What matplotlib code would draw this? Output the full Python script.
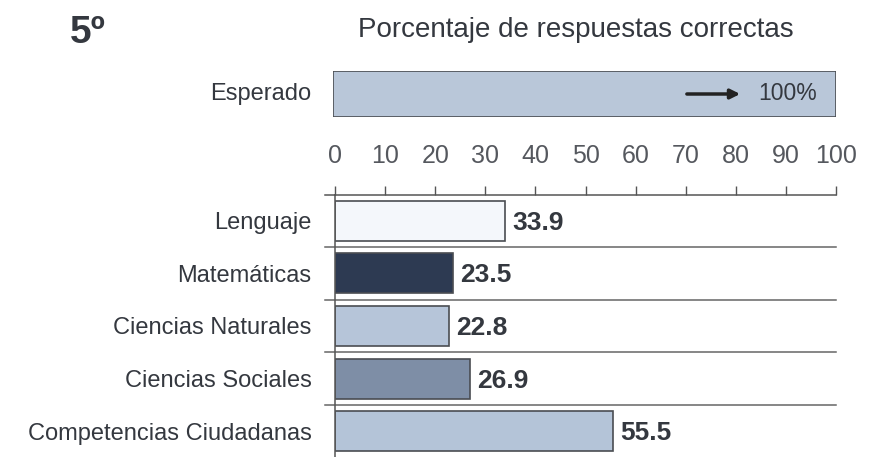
import matplotlib.pyplot as plt
from matplotlib import font_manager

# Porcentaje de respuestas correctas, 5º grado
areas = ["Lenguaje", "Matemáticas", "Ciencias Naturales", "Ciencias Sociales",
         "Competencias Ciudadanas"]
porcentajes = [33.9, 23.5, 22.8, 26.9, 55.5]
esperado = 100
ticks = [0, 10, 20, 30, 40, 50, 60, 70, 80, 90, 100]

colores = ["#f4f7fb", "#2d3a52", "#b6c5d9", "#7e8ea6", "#b4c4d8"]
texto = "#34383f"
borde = "#4a4d52"

names = {f.name for f in font_manager.fontManager.ttflist}
narrow = "Liberation Sans Narrow" if "Liberation Sans Narrow" in names else "Liberation Sans"
plt.rcParams["font.family"] = ["Liberation Sans", "DejaVu Sans"]

W, H = 872, 457
fig = plt.figure(figsize=(W / 100, H / 100), dpi=100)


def box(x0, y0, x1, y1):
    # pixel box (top-left origin) -> figure fraction rect
    return [x0 / W, 1 - y1 / H, (x1 - x0) / W, (y1 - y0) / H]


# main bars
ax = fig.add_axes(box(335, 195, 836, 457))
y = list(range(len(areas)))
ax.barh(y, porcentajes, height=0.76, color=colores, edgecolor=borde, linewidth=1.2)
ax.set_xlim(0, 100)
ax.set_ylim(4.49, -0.49)
ax.set_yticks(y)
ax.set_yticklabels(areas, fontsize=17, color=texto)
ax.tick_params(axis="y", length=0, pad=17)
ax.xaxis.tick_top()
ax.set_xticks(ticks)
ax.set_xticklabels([str(t) for t in ticks], fontsize=18, color="#55585e")
ax.tick_params(axis="x", direction="out", length=6.5, width=1, color="#555555", pad=13)
for s in ["right", "bottom"]:
    ax.spines[s].set_visible(False)
for s in ["top", "left"]:
    ax.spines[s].set_color("#555555")
    ax.spines[s].set_linewidth(1.1)

# separators between rows
for k in range(len(areas) - 1):
    ax.plot([-2, 100], [k + 0.5, k + 0.5], color="#666666", lw=1.1, clip_on=False)
ax.plot([-2, 0], [-0.49, -0.49], color="#555555", lw=1.1, clip_on=False)

for yi, v in zip(y, porcentajes):
    ax.text(v + 1.4, yi + 0.04, f"{v:.1f}", va="center", ha="left", fontsize=19,
            fontweight="bold", color=texto, family=narrow)

# expected bar
ax2 = fig.add_axes(box(333, 71, 836, 117))
ax2.barh([0], [esperado], height=1.0, color="#b9c7d9", edgecolor=borde, linewidth=1.2)
ax2.set_xlim(0, 100)
ax2.set_ylim(-0.5, 0.5)
ax2.axis("off")
ax2.annotate("", xy=(81.5, 0), xytext=(69.8, 0),
             arrowprops=dict(arrowstyle="-|>", color="#222222", lw=2.5, mutation_scale=14))
ax2.text(84.5, 0, f"{esperado}%", va="center", ha="left", fontsize=16.5, color=texto)
fig.text(311 / W, 1 - 94 / H, "Esperado", ha="right", va="center", fontsize=17, color=texto)

fig.text(576 / W, 1 - 30 / H, "Porcentaje de respuestas correctas", ha="center",
         va="center", fontsize=20, color=texto)
fig.text(88 / W, 1 - 33 / H, "5º", ha="center", va="center", fontsize=28,
         fontweight="bold", color=texto)

fig.savefig("out.png", dpi=100)
